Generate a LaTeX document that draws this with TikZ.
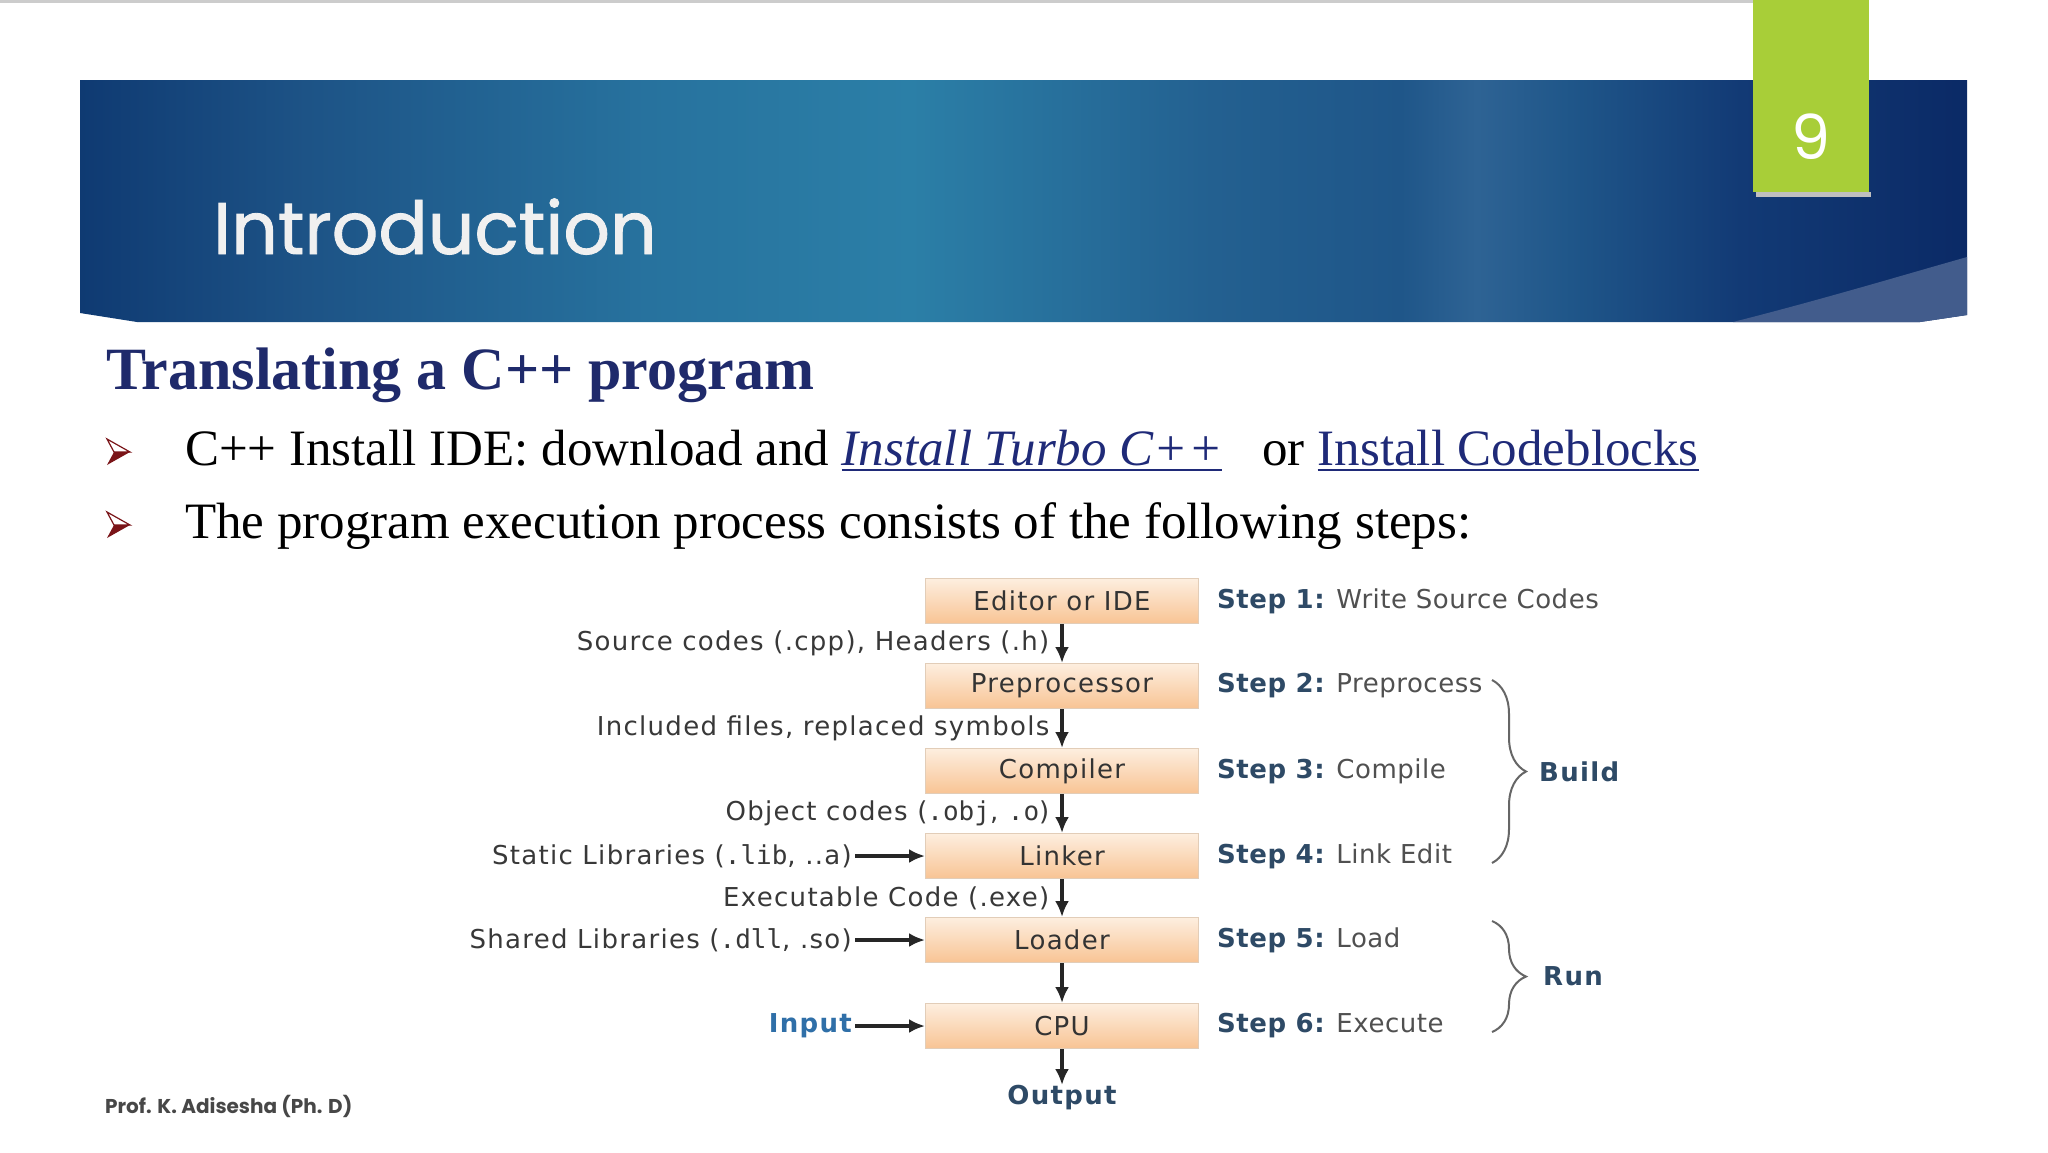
\documentclass[tikz,border=0pt]{standalone}
\usepackage{fontspec}
\setmainfont{Liberation Serif}
\newfontfamily\slidesans{Poppins}
\newfontfamily\titlesans[FakeBold=1.2]{Poppins}
\newfontfamily\diagsans[LetterSpace=5]{DejaVu Sans}
\newfontfamily\stepsans[LetterSpace=2]{DejaVu Sans}
\newfontfamily\diagmono{DejaVu Sans Mono}
\usetikzlibrary{positioning}
\usetikzlibrary{arrows.meta, calc, decorations.pathreplacing}

\definecolor{navyhead}{HTML}{1F2A6B}
\definecolor{linkblue}{HTML}{1F2A78}
\definecolor{bulletred}{HTML}{7A1418}
\definecolor{tabgreen}{HTML}{A8CE38}
\definecolor{boxtop}{HTML}{FDEEDF}
\definecolor{boxbot}{HTML}{F8C494}
\definecolor{boxline}{HTML}{E2CDB8}
\definecolor{steptxt}{HTML}{2E4A66}
\definecolor{greytxt}{HTML}{505050}
\definecolor{inputblue}{HTML}{2F6FA8}
\definecolor{bnA}{HTML}{0F3A72}
\definecolor{bnB}{HTML}{1D5386}
\definecolor{bnC}{HTML}{27729E}
\definecolor{bnD}{HTML}{2B7FA7}
\definecolor{bnE}{HTML}{236090}
\definecolor{bnF}{HTML}{1F5689}
\definecolor{bnG}{HTML}{2E6394}
\definecolor{bnH}{HTML}{123A75}
\definecolor{bnI}{HTML}{0B2A66}
\definecolor{bncorner}{HTML}{425C8C}

\pgfdeclarehorizontalshading{bannershade}{100bp}{color(0bp)=(bnA); color(25bp)=(bnA);
  color(31bp)=(bnB); color(40bp)=(bnC); color(47bp)=(bnD); color(55bp)=(bnE);
  color(60bp)=(bnF); color(62bp)=(bnG); color(64.5bp)=(bnF); color(69bp)=(bnH);
  color(75bp)=(bnI); color(100bp)=(bnI)}

\newcommand\linkul[1]{{\color{linkblue}\setbox0\hbox{#1}\rlap{\rule[-6pt]{\wd0}{2.5pt}}\box0}}

\begin{document}
\begin{tikzpicture}[x=1pt, y=-1pt,
        stage/.style={draw=boxline, line width=1pt, top color=boxtop, bottom color=boxbot,
            minimum width=273pt, minimum height=45pt, text=black!80,
            font=\diagsans\fontsize{26}{30}\selectfont},
        lbl/.style={font=\diagsans\fontsize{26}{30}\selectfont, text=black!78, inner sep=3pt},
        steplbl/.style={font=\stepsans\fontsize{26}{30}\selectfont, text=greytxt, inner sep=0pt},
        grouplbl/.style={font=\diagsans\bfseries\fontsize{26}{30}\selectfont, text=steptxt, inner sep=0pt},
        arr/.style={-{Latex[length=16pt,width=14pt]}, line width=3.4pt, black!85},
        grp brace/.style={decorate, decoration={brace, amplitude=34pt}, line width=2pt, black!60},
    ]

    % Slide background and header band
    \fill[white] (0,0) rectangle (2048,1152);
    \useasboundingbox (0,0) rectangle (2048,1152);
    \draw[black!20, line width=3pt] (0,1.5) -- (1753,1.5);
    \shade[shading=bannershade] (80,80) -- (1967,80) -- (1967,315) -- (1920,322)
        -- (137,322) -- (80,313) -- cycle;
    \fill[bncorner] (1733,322) .. controls (1820,300) and (1900,276) .. (1967,257)
        -- (1967,315) -- (1920,322) -- cycle;
    \fill[black!25] (1756,192) rectangle (1871,197);
    \fill[tabgreen] (1753,0) rectangle (1869,192);
    \node[font=\slidesans\fontsize{62}{70}\selectfont, text=white] (slidenum) at (1811,137) {9};
    \node[anchor=base west, inner sep=0pt, font=\titlesans\fontsize{73}{84}\selectfont,
        text=white!94!black] (title) at (213,254) {Introduction};

    % Heading and bullet lines
    \node[anchor=base west, inner sep=0pt, font=\bfseries\fontsize{60}{68}\selectfont,
        text=navyhead] (heading) at (106,389) {Translating a C++ program};
    \foreach \by in {452,525} {
        \fill[bulletred] (114,\by) -- (130,\by) -- (107,\by+13) -- cycle;
        \draw[bulletred, line width=1.2pt, line join=miter] (107,\by-13) -- (130,\by) -- (114,\by) -- cycle;
    }
    \node[anchor=base west, inner sep=0pt, font=\fontsize{51}{60}\selectfont] (lineone) at (185,465)
        {C++ Install IDE: download and \linkul{\itshape Install Turbo C++}\hspace{40pt}or \linkul{Install Codeblocks}};
    \node[anchor=base west, inner sep=0pt, font=\fontsize{51}{60}\selectfont] (linetwo) at (185,538)
        {The program execution process consists of the following steps:};

    % Stages of the build chain
    \node[stage] (editor) at (1062,601) {Editor or IDE};
    \node[stage, below=39pt of editor] (prep) {Preprocessor};
    \node[stage, below=39pt of prep] (compiler) {Compiler};
    \node[stage, below=39pt of compiler] (linker) {Linker};
    \node[stage, below=38pt of linker] (loader) {Loader};
    \node[stage, below=40pt of loader] (cpu) {CPU};
    \node[grouplbl, below=36pt of cpu] (output) {Output};

    % Arrows down the chain
    \draw[arr] (editor) -- node[lbl, left=8pt] {Source codes (.cpp), Headers (.h)} (prep);
    \draw[arr] (prep) -- node[lbl, left=8pt] {Included files, replaced symbols} (compiler);
    \draw[arr] (compiler) -- node[lbl, left=8pt] {Object codes ({\diagmono .obj}, {\diagmono .o})} (linker);
    \draw[arr] (linker) -- node[lbl, left=8pt] {Executable Code (.exe)} (loader);
    \draw[arr] (loader) -- (cpu);
    \draw[arr] (cpu) -- (output);

    % Side inputs
    \node[lbl, left=70pt of linker] (staticlib) {Static Libraries ({\diagmono .lib}, ..a)};
    \node[lbl, left=70pt of loader] (sharedlib) {Shared Libraries ({\diagmono .dll}, .so)};
    \node[lbl, left=70pt of cpu, font=\diagsans\bfseries\fontsize{26}{30}\selectfont, text=inputblue] (input) {Input};
    \draw[arr] (staticlib) -- (linker);
    \draw[arr] (sharedlib) -- (loader);
    \draw[arr] (input) -- (cpu);

    % Step descriptions
    \node[steplbl, right=18pt of editor] (step1) {{\bfseries\color{steptxt}Step 1:} Write Source Codes};
    \node[steplbl, right=18pt of prep] (step2) {{\bfseries\color{steptxt}Step 2:} Preprocess};
    \node[steplbl, right=18pt of compiler] (step3) {{\bfseries\color{steptxt}Step 3:} Compile};
    \node[steplbl, right=18pt of linker] (step4) {{\bfseries\color{steptxt}Step 4:} Link Edit};
    \node[steplbl, right=18pt of loader] (step5) {{\bfseries\color{steptxt}Step 5:} Load};
    \node[steplbl, right=18pt of cpu] (step6) {{\bfseries\color{steptxt}Step 6:} Execute};

    % Grouping braces
    \coordinate (buildtop) at (1492,680);
    \coordinate (buildbot) at (1492,863);
    \coordinate (runtop) at (1492,921);
    \coordinate (runbot) at (1492,1032);
    \draw[grp brace] (buildtop) -- (buildbot);
    \draw[grp brace] (runtop) -- (runbot);
    \node[grouplbl, anchor=west] (build) at ($(buildtop)!0.5!(buildbot)+(47,0)$) {Build};
    \node[grouplbl, anchor=west] (run) at ($(runtop)!0.5!(runbot)+(51,0)$) {Run};

    % Footer
    \node[anchor=base west, inner sep=0pt, font=\slidesans\bfseries\fontsize{20}{24}\selectfont,
        text=black!72] (footer) at (105,1113) {Prof. K. Adisesha (Ph. D)};

\end{tikzpicture}
\end{document}
